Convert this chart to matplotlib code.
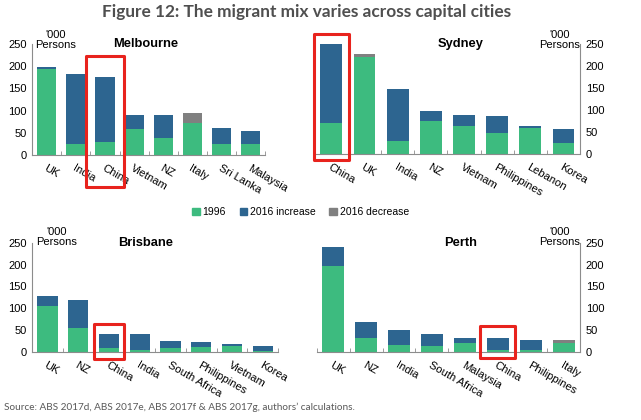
import numpy as np
import matplotlib
matplotlib.use('Agg')
import matplotlib.pyplot as plt
from matplotlib.patches import Rectangle, Patch

plt.rcParams['font.family'] = ['Liberation Sans', 'DejaVu Sans']

# --- DATA ('000 persons) ---
mel_countries = ['UK', 'India', 'China', 'Vietnam', 'NZ', 'Italy', 'Sri Lanka', 'Malaysia']
mel_1996 = [194, 25, 29, 59, 39, 71, 25, 25]
mel_increase = [5, 158, 147, 31, 51, 0, 36, 28]
mel_decrease = [0, 0, 0, 0, 0, 24, 0, 0]

syd_countries = ['China', 'UK', 'India', 'NZ', 'Vietnam', 'Philippines', 'Lebanon', 'Korea']
syd_1996 = [70, 221, 30, 75, 65, 48, 59, 25]
syd_increase = [180, 0, 117, 23, 25, 38, 6, 32]
syd_decrease = [0, 6, 0, 0, 0, 0, 0, 0]

bri_countries = ['UK', 'NZ', 'China', 'India', 'South Africa', 'Philippines', 'Vietnam', 'Korea']
bri_1996 = [106, 55, 8, 5, 8, 11, 13, 2]
bri_increase = [21, 64, 32, 35, 18, 12, 5, 12]
bri_decrease = [0, 0, 0, 0, 0, 0, 0, 0]

per_countries = ['UK', 'NZ', 'India', 'South Africa', 'Malaysia', 'China', 'Philippines', 'Italy']
per_1996 = [196, 32, 15, 13, 20, 4, 4, 21]
per_increase = [45, 36, 36, 27, 13, 27, 24, 0]
per_decrease = [0, 0, 0, 0, 0, 0, 0, 6]

GREEN = '#3dbb7f'
BLUE = '#2d6590'
GREY = '#808080'
AXIS = '#8c8c8c'

fig = plt.figure(figsize=(6.41, 4.2), dpi=100)


def panel(rect, title, title_x, countries, base, inc, dec, right=False,
          highlight=None, box=None, unit_y=1.13):
    ax = fig.add_axes(rect)
    x = np.arange(len(countries))
    base = np.array(base)
    inc = np.array(inc)
    ax.bar(x, base, width=0.66, color=GREEN, zorder=2)
    ax.bar(x, inc, width=0.66, bottom=base, color=BLUE, zorder=2)
    ax.bar(x, dec, width=0.66, bottom=base + inc, color=GREY, zorder=2)
    ax.set_xlim(-0.5, 7.5)
    ax.set_ylim(0, 250)
    ax.set_yticks([0, 50, 100, 150, 200, 250])
    ax.set_xticks(x)
    ax.set_xticks(np.arange(-0.5, 8, 1), minor=True)
    ax.set_xticklabels(countries, rotation=-30, ha='left', va='top',
                       rotation_mode='anchor', fontsize=8)
    ax.tick_params(axis='x', which='major', length=0, pad=6)
    ax.tick_params(axis='x', which='minor', length=3, color=AXIS, direction='in')
    ax.tick_params(axis='y', length=0, labelsize=8, pad=4)
    for s in ['top', 'left', 'right']:
        ax.spines[s].set_visible(False)
    ax.spines['bottom'].set_color(AXIS)
    side = 'right' if right else 'left'
    ax.spines[side].set_visible(True)
    ax.spines[side].set_color(AXIS)
    if right:
        ax.yaxis.tick_right()
        ax.text(1.0, unit_y, "'000\nPersons", transform=ax.transAxes, ha='right',
                va='top', fontsize=8, linespacing=1.0, multialignment='center')
    else:
        ax.text(0.015, unit_y, "'000\nPersons", transform=ax.transAxes, ha='left',
                va='top', fontsize=8, linespacing=1.0, multialignment='center')
    ax.text(title_x, 1.0, title, transform=ax.transAxes, ha='center', va='center',
            fontsize=9.3, fontweight='bold')
    if highlight is not None:
        hx = countries.index(highlight)
        w, y0, y1 = box
        ax.add_patch(Rectangle((hx - w / 2, y0), w, y1 - y0, fill=False,
                               edgecolor='#e8231d', lw=2.2, clip_on=False,
                               joinstyle='round', zorder=5))
    return ax


panel([0.050, 0.631, 0.364, 0.264], 'Melbourne', 0.486, mel_countries,
      mel_1996, mel_increase, mel_decrease, highlight='China', box=(1.33, -73, 223))
panel([0.491, 0.633, 0.414, 0.262], 'Sydney', 0.55, syd_countries,
      syd_1996, syd_increase, syd_decrease, right=True, highlight='China', box=(1.07, -14, 272))
panel([0.050, 0.162, 0.384, 0.260], 'Brisbane', 0.46, bri_countries,
      bri_1996, bri_increase, bri_decrease, highlight='China', box=(0.95, -16, 64),
      unit_y=1.14)
panel([0.494, 0.162, 0.411, 0.260], 'Perth', 0.545, per_countries,
      per_1996, per_increase, per_decrease, right=True, highlight='China', box=(1.07, -14, 59),
      unit_y=1.14)

handles = [Patch(color=GREEN, label='1996'),
           Patch(color=BLUE, label='2016 increase'),
           Patch(color=GREY, label='2016 decrease')]
fig.legend(handles=handles, loc='center', bbox_to_anchor=(0.469, 0.495), ncol=3,
           frameon=False, fontsize=7.5, handlelength=0.7, handleheight=0.7,
           handletextpad=0.3, columnspacing=1.3)

fig.text(0.479, 0.972, 'Figure 12: The migrant mix varies across capital cities',
         ha='center', va='center', fontsize=12.4, fontweight='bold', color='#4f4f4f',
         family=['Lato', 'DejaVu Sans'])
fig.text(0.006, 0.031, "Source: ABS 2017d, ABS 2017e, ABS 2017f & ABS 2017g, authors\u2019 calculations.",
         ha='left', va='center', fontsize=7.2, color='#595959', family=['Lato', 'DejaVu Sans'])

fig.savefig('out.png', dpi=100)
